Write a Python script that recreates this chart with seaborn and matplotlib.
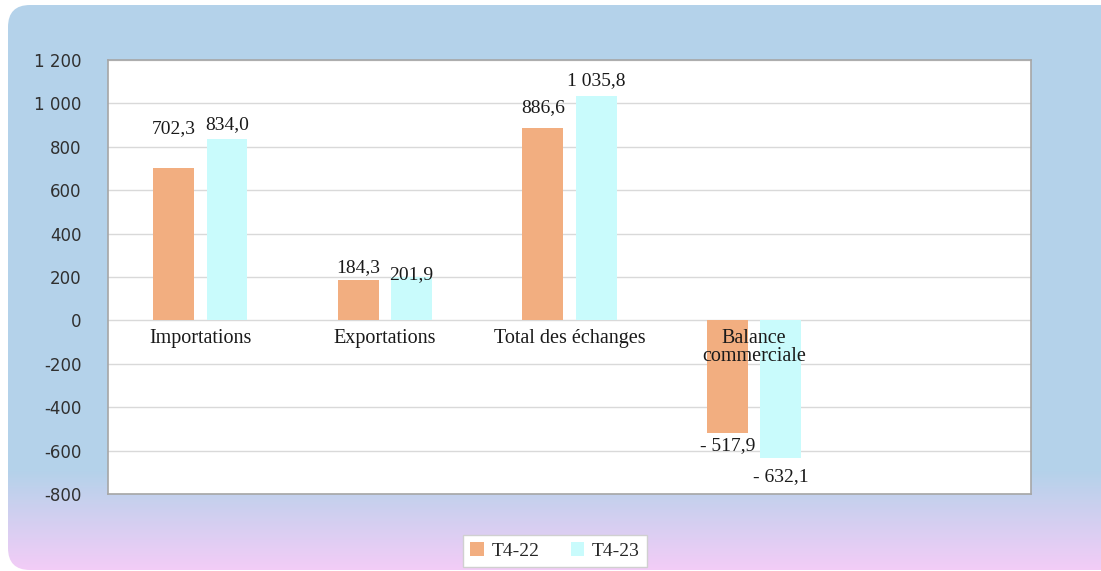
import numpy as np
import pandas as pd
import matplotlib
matplotlib.use("Agg")
import matplotlib.pyplot as plt
import seaborn as sns
from matplotlib.patches import FancyBboxPatch

sns.set_style("white")

categories = ["Importations", "Exportations", "Total des échanges", "Balance\ncommerciale"]
series = ["T4-22", "T4-23"]
t4_22 = [702.3, 184.3, 886.6, -517.9]
t4_23 = [834.0, 201.9, 1035.8, -632.1]
yticks = [-800, -600, -400, -200, 0, 200, 400, 600, 800, 1000, 1200]

colors = {"T4-22": "#F2AE80", "T4-23": "#C9FBFC"}
# vertical offset (pixels) of each value label from the bar end
label_offsets = {"T4-22": [39, 13, 20, -13], "T4-23": [15, 2, 15, -19]}

df = pd.DataFrame({
    "categorie": categories * 2,
    "serie": [series[0]] * 4 + [series[1]] * 4,
    "valeur": t4_22 + t4_23,
})

W, H = 1101, 571
fig = plt.figure(figsize=(W / 100, H / 100), dpi=100)

# background: rounded panel with blue -> pink gradient
bg = fig.add_axes([0, 0, 1, 1], zorder=0)
bg.set_xlim(0, W)
bg.set_ylim(0, H)
bg.axis("off")
blue = np.array([180, 210, 234]) / 255
pink = np.array([244, 204, 247]) / 255
rows = np.arange(H)
t = np.clip((rows - 470) / (H - 470), 0, 1)[:, None]
grad = (blue * (1 - t) + pink * t)[:, None, :]
im = bg.imshow(grad, extent=[0, W, 0, H], aspect="auto", origin="upper")
panel = FancyBboxPatch((8, 1), W + 40, H - 6, boxstyle="round,pad=0,rounding_size=22",
                       facecolor="none", edgecolor="none", transform=bg.transData)
bg.add_patch(panel)
im.set_clip_path(panel)

ax = fig.add_axes([108 / W, 1 - 494 / H, (1031 - 108) / W, (494 - 60) / H], zorder=2)
ax.set_facecolor("white")

sns.barplot(data=df, x="categorie", y="valeur", hue="serie", order=categories,
            hue_order=series, palette=colors, saturation=1, width=0.578, gap=0.234,
            linewidth=0, ax=ax, legend=True)

ax.set_xlim(-0.5, 4.5)
ax.set_ylim(-800, 1200)
ax.set_yticks(yticks)
ax.set_yticklabels([f"{v:,}".replace(",", " ") for v in yticks],
                   fontsize=12, family="DejaVu Sans", color="#303030")
ax.tick_params(axis="y", length=0, pad=19)
ax.set_xticks([])
ax.set_xlabel("")
ax.set_ylabel("")
ax.grid(axis="y", color="#D9D9D9", linewidth=1)
ax.set_axisbelow(True)
for s in ax.spines.values():
    s.set_color("#A6A6A6")
    s.set_linewidth(1.2)

serif = "Liberation Serif"

# category labels just under the zero line
for i, cat in enumerate(categories):
    ax.annotate(cat, (i, 0), xytext=(0, -9), textcoords="offset pixels",
                ha="center", va="top", fontsize=14.5, family=serif,
                color="#1A1A1A", linespacing=0.9, zorder=5)


def fmt(v):
    s = f"{abs(v):,.1f}".replace(",", " ").replace(".", ",")
    return ("- " + s) if v < 0 else s


for container, name in zip(ax.containers, series):
    for bar, off in zip(container, label_offsets[name]):
        v = bar.get_height()
        x = bar.get_x() + bar.get_width() / 2
        ax.annotate(fmt(v), (x, v), xytext=(0, off), textcoords="offset pixels",
                    ha="center", va="center", fontsize=14, family=serif,
                    color="#1A1A1A", zorder=5)

handles, labels = ax.get_legend_handles_labels()
ax.get_legend().remove()
leg = fig.legend(handles, labels, loc="center", bbox_to_anchor=(555 / W, 1 - 551 / H),
                 ncol=2, frameon=True, fancybox=False, framealpha=1,
                 handlelength=0.7, handleheight=0.7,
                 handletextpad=0.4, columnspacing=1.6, borderpad=0.35,
                 prop={"family": serif, "size": 14})
leg.get_frame().set_edgecolor("#D0D0D0")
leg.get_frame().set_facecolor("white")

fig.savefig("out.png", dpi=100)
